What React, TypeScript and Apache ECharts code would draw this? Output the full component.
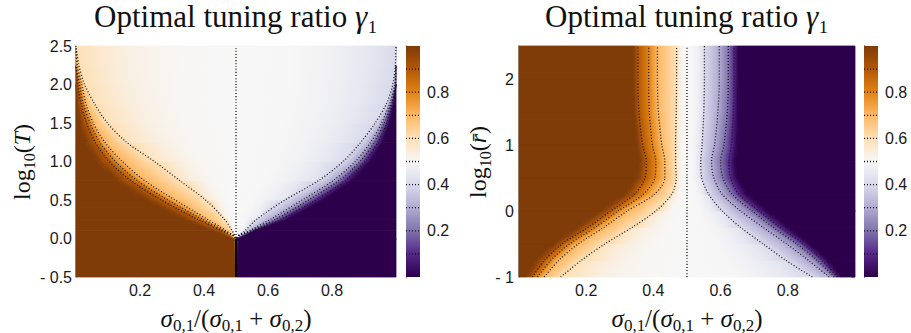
import React, { useEffect, useRef } from 'react';
import * as echarts from 'echarts';

// Colormap anchors for values 0.0, 0.1, ..., 1.0 (purple -> white -> brown)
const LEVEL_COLORS = ['#2d004b', '#542788', '#8073ac', '#b2abd2', '#d8daeb', '#f7f7f7', '#fee0b6', '#fdb863', '#e08214', '#b35806', '#7f3b08'];
const CONTOUR_LEVELS = [0.1, 0.2, 0.3, 0.4, 0.5, 0.6, 0.7, 0.8, 0.9];
const COLORBAR_TICKS = [0.2, 0.4, 0.6, 0.8];
const X_MIN = 0;
const X_MAX = 1;

// ---------- Left panel: log10(T) ----------
const T_ROWS = [-0.5, 0.0, 0.1, 0.25, 0.5, 0.75, 1.0, 1.25, 1.5, 1.75, 2.0, 2.25, 2.5];
const T_SAT_HIGH = [0.5, 0.49, 0.43, 0.335, 0.218, 0.128, 0.065, 0.03, 0.011, 0.003, 0.0, 0.0, 0.0];
const T_C90 = [0.5, 0.498, 0.455, 0.38, 0.267, 0.172, 0.104, 0.06, 0.033, 0.016, 0.005, 0.0, 0.0];
const T_C80 = [0.5, 0.498, 0.462, 0.395, 0.287, 0.192, 0.123, 0.074, 0.044, 0.023, 0.011, 0.0, 0.0];
const T_C70 = [0.5, 0.498, 0.469, 0.41, 0.31, 0.215, 0.145, 0.09, 0.054, 0.031, 0.018, 0.004, 0.0];
const T_C60 = [0.5, 0.498, 0.488, 0.464, 0.405, 0.325, 0.245, 0.158, 0.098, 0.058, 0.027, 0.009, 0.0];
const T_C50 = [0.5, 0.5, 0.5, 0.5, 0.5, 0.5, 0.5, 0.5, 0.5, 0.5, 0.5, 0.5, 0.5];
const T_C40 = [0.5, 0.502, 0.528, 0.565, 0.653, 0.757, 0.835, 0.89, 0.935, 0.97, 0.99, 0.998, 1.0];
const T_C30 = [0.5, 0.502, 0.542, 0.608, 0.707, 0.803, 0.873, 0.921, 0.955, 0.98, 0.996, 1.0, 1.0];
const T_C20 = [0.5, 0.502, 0.548, 0.624, 0.727, 0.821, 0.888, 0.932, 0.963, 0.985, 0.999, 1.0, 1.0];
const T_C10 = [0.5, 0.502, 0.554, 0.641, 0.749, 0.841, 0.903, 0.944, 0.971, 0.989, 1.0, 1.0, 1.0];
const T_SAT_LOW = [0.5, 0.51, 0.56, 0.66, 0.773, 0.862, 0.92, 0.958, 0.98, 0.994, 1.0, 1.0, 1.0];
const T_JUMP = [[0.5, -0.5], [0.5, 0.0]];

// ---------- Right panel: log10(r) ----------
const R_ROWS = [-1.0, -0.75, -0.5, -0.25, 0.0, 0.25, 0.5, 0.75, 1.0, 1.5, 2.0, 2.5];
const R_SAT_HIGH = [0.022, 0.05, 0.105, 0.172, 0.243, 0.313, 0.352, 0.359, 0.352, 0.343, 0.341, 0.341];
const R_C90 = [0.04, 0.075, 0.128, 0.205, 0.273, 0.342, 0.375, 0.379, 0.368, 0.357, 0.354, 0.354];
const R_C80 = [0.055, 0.094, 0.15, 0.226, 0.295, 0.369, 0.404, 0.407, 0.397, 0.388, 0.386, 0.386];
const R_C70 = [0.075, 0.118, 0.176, 0.252, 0.322, 0.402, 0.434, 0.434, 0.425, 0.415, 0.412, 0.412];
const R_C60 = [0.124, 0.185, 0.255, 0.336, 0.407, 0.454, 0.468, 0.466, 0.466, 0.468, 0.469, 0.469];
const R_C50 = [0.5, 0.5, 0.5, 0.5, 0.5, 0.5, 0.5, 0.5, 0.5, 0.5, 0.5, 0.5];
const R_C40 = [0.873, 0.795, 0.727, 0.66, 0.605, 0.565, 0.544, 0.541, 0.545, 0.55, 0.552, 0.552];
const R_C30 = [0.923, 0.862, 0.797, 0.727, 0.66, 0.605, 0.58, 0.573, 0.582, 0.592, 0.596, 0.596];
const R_C20 = [0.938, 0.888, 0.827, 0.757, 0.694, 0.635, 0.607, 0.6, 0.61, 0.62, 0.623, 0.623];
const R_C10 = [0.947, 0.903, 0.847, 0.778, 0.714, 0.655, 0.63, 0.625, 0.632, 0.638, 0.64, 0.64];
const R_SAT_LOW = [0.958, 0.92, 0.865, 0.8, 0.739, 0.68, 0.65, 0.643, 0.65, 0.652, 0.653, 0.653];

type Track = { v: number; xs: number[] };

function hexToRgb(h: string) {
  return [parseInt(h.slice(1, 3), 16), parseInt(h.slice(3, 5), 16), parseInt(h.slice(5, 7), 16)];
}
function colorAt(v: number) {
  const t = Math.max(0, Math.min(1, v)) * 10;
  const k = Math.min(9, Math.floor(t));
  const f = t - k;
  const a = hexToRgb(LEVEL_COLORS[k]);
  const b = hexToRgb(LEVEL_COLORS[k + 1]);
  const c = a.map((x, i) => Math.round(x + (b[i] - x) * f));
  return `rgb(${c[0]},${c[1]},${c[2]})`;
}

function makeTracks(n: number, arrs: number[][]): Track[] {
  const edgeL = new Array(n).fill(X_MIN);
  const edgeR = new Array(n).fill(X_MAX);
  const vals = [1.0, 0.9, 0.8, 0.7, 0.6, 0.5, 0.4, 0.3, 0.2, 0.1, 0.0];
  const tracks: Track[] = [{ v: 1.0, xs: edgeL }];
  arrs.forEach((xs, k) => tracks.push({ v: vals[k], xs }));
  tracks.push({ v: 0.0, xs: edgeR });
  return tracks;
}

const T_TRACKS = makeTracks(T_ROWS.length, [T_SAT_HIGH, T_C90, T_C80, T_C70, T_C60, T_C50, T_C40, T_C30, T_C20, T_C10, T_SAT_LOW]);
const R_TRACKS = makeTracks(R_ROWS.length, [R_SAT_HIGH, R_C90, R_C80, R_C70, R_C60, R_C50, R_C40, R_C30, R_C20, R_C10, R_SAT_LOW]);

// colour stops across a band; the field flattens out towards the 0.5 plateau
const EASE_FRACS = [0, 0.08, 0.18, 0.3, 0.45, 0.65, 1];
function bandStops(vA: number, vB: number) {
  if (vA !== 0.5 && vB !== 0.5) {
    return [{ offset: 0, color: colorAt(vA) }, { offset: 1, color: colorAt(vB) }];
  }
  const fromA = vB === 0.5; // the contour side is A
  const s = fromA ? vA : vB;
  return EASE_FRACS.map((f) => {
    const e = 1 - Math.pow(1 - f, 3);
    const val = s + (0.5 - s) * e;
    return { offset: fromA ? f : 1 - f, color: colorAt(val) };
  }).sort((p, q) => p.offset - q.offset);
}

function heatSeries(rows: number[], tracks: Track[], axisIndex: number) {
  const data: number[][] = [];
  for (let i = 0; i < rows.length - 1; i++) {
    for (let j = 0; j < tracks.length - 1; j++) data.push([i, j]);
  }
  return {
    type: 'custom',
    xAxisIndex: axisIndex,
    yAxisIndex: axisIndex,
    silent: true,
    z: 1,
    data,
    renderItem: (params: any, api: any) => {
      const i = api.value(0);
      const j = api.value(1);
      const A = tracks[j];
      const B = tracks[j + 1];
      const y0 = rows[i];
      const y1 = rows[i + 1];
      const L0 = api.coord([A.xs[i], y0]);
      const L1 = api.coord([A.xs[i + 1], y1]);
      const R0 = api.coord([B.xs[i], y0]);
      const R1 = api.coord([B.xs[i + 1], y1]);
      if (Math.abs(R0[0] - L0[0]) < 0.01 && Math.abs(R1[0] - L1[0]) < 0.01) return null;
      let fill: any = colorAt(A.v);
      if (A.v !== B.v) {
        const mL = [(L0[0] + L1[0]) / 2, (L0[1] + L1[1]) / 2];
        const mR = [(R0[0] + R1[0]) / 2, (R0[1] + R1[1]) / 2];
        let dx = L1[0] - L0[0] + (R1[0] - R0[0]);
        let dy = L1[1] - L0[1] + (R1[1] - R0[1]);
        const dl = Math.hypot(dx, dy) || 1;
        dx /= dl;
        dy /= dl;
        let vx = mR[0] - mL[0];
        let vy = mR[1] - mL[1];
        const dot = vx * dx + vy * dy;
        vx -= dot * dx;
        vy -= dot * dy;
        if (Math.hypot(vx, vy) < 0.3) {
          fill = colorAt((A.v + B.v) / 2);
        } else {
          fill = new echarts.graphic.LinearGradient(mL[0], mL[1], mL[0] + vx, mL[1] + vy, bandStops(A.v, B.v), true);
        }
      }
      return {
        type: 'polygon',
        shape: { points: [L0, L1, R1, R0] },
        style: { fill, stroke: fill, lineWidth: 0.8 },
      };
    },
  };
}

function contourSeries(rows: number[], tracks: Track[], axisIndex: number) {
  const out: any[] = [];
  tracks.forEach((t, k) => {
    if (k < 2 || k > tracks.length - 3) return; // skip edges and saturation tracks
    const pts: number[][] = [];
    rows.forEach((y, r) => {
      const x = t.xs[r];
      const atEdge = x <= X_MIN + 1e-9 || x >= X_MAX - 1e-9;
      const prevEdge = r > 0 && (t.xs[r - 1] <= X_MIN + 1e-9 || t.xs[r - 1] >= X_MAX - 1e-9);
      if (atEdge && prevEdge) return;
      pts.push([x, y]);
    });
    out.push({
      type: 'line',
      xAxisIndex: axisIndex,
      yAxisIndex: axisIndex,
      data: pts,
      symbol: 'none',
      smooth: 0.3,
      silent: true,
      z: 3,
      lineStyle: { color: '#151515', width: 1.3, type: [1, 2] },
    });
  });
  return out;
}

function colorbarSeries(axisIndex: number) {
  return [
    {
      type: 'custom',
      xAxisIndex: axisIndex,
      yAxisIndex: axisIndex,
      silent: true,
      data: [[0, 0]],
      renderItem: (params: any, api: any) => {
        const p0 = api.coord([0, 1]);
        const p1 = api.coord([1, 0]);
        return {
          type: 'rect',
          shape: { x: p0[0], y: p0[1], width: p1[0] - p0[0], height: p1[1] - p0[1] },
          style: {
            fill: new echarts.graphic.LinearGradient(0, 1, 0, 0, LEVEL_COLORS.map((c, k) => ({ offset: k / 10, color: c }))),
          },
        };
      },
    },
    {
      type: 'custom',
      xAxisIndex: axisIndex,
      yAxisIndex: axisIndex,
      silent: true,
      z: 3,
      data: CONTOUR_LEVELS.map((v) => [0, v]),
      renderItem: (params: any, api: any) => {
        const v = api.value(1);
        const a = api.coord([0, v]);
        const b = api.coord([1, v]);
        return {
          type: 'line',
          shape: { x1: a[0], y1: a[1], x2: b[0], y2: b[1] },
          style: { stroke: '#151515', lineWidth: 1.3, lineDash: [1, 2] },
        };
      },
    },
  ];
}

const TICK_FONT = { fontFamily: 'Liberation Sans', fontSize: 16, color: '#1a1a1a' };
const AXIS_GRAY = { color: '#8f8f8f', width: 1.6 };

function xAxisMain(gridIndex: number) {
  return {
    type: 'value',
    gridIndex,
    min: X_MIN,
    max: X_MAX,
    interval: 0.2,
    axisLine: { show: true, lineStyle: AXIS_GRAY },
    axisTick: { show: false },
    splitLine: { show: false },
    axisLabel: {
      ...TICK_FONT,
      margin: 5,
      showMinLabel: false,
      showMaxLabel: false,
      formatter: (v: number) => (v <= 0 || v >= 1 ? '' : v.toFixed(1)),
    },
  };
}

function colorbarY(gridIndex: number) {
  return {
    type: 'value',
    gridIndex,
    min: 0,
    max: 1,
    interval: 0.2,
    position: 'right',
    axisLine: { show: true, lineStyle: { color: '#000', width: 1 } },
    axisTick: { show: true, length: 5, lineStyle: { color: '#000', width: 1 }, customValues: COLORBAR_TICKS },
    splitLine: { show: false },
    axisLabel: {
      ...TICK_FONT,
      margin: 7,
      customValues: COLORBAR_TICKS,
      formatter: (v: number) => (v <= 0 || v >= 1 ? '' : v.toFixed(1)),
    },
  };
}

const SERIF = 'Liberation Serif';
const TITLE_RICH = {
  a: { fontFamily: SERIF, fontSize: 31, lineHeight: 30, fill: '#111' },
  g: { fontFamily: SERIF, fontStyle: 'italic', fontSize: 31, lineHeight: 30, fill: '#111' },
  s: { fontFamily: SERIF, fontSize: 31, lineHeight: 30, fill: '#111' },
};
const LABEL_RICH = {
  n: { fontFamily: SERIF, fontSize: 25, lineHeight: 31, fill: '#111' },
  i: { fontFamily: SERIF, fontStyle: 'italic', fontSize: 25, lineHeight: 31, fill: '#111' },
  s: { fontFamily: SERIF, fontSize: 17, lineHeight: 17, verticalAlign: 'bottom', fill: '#111' },
};
const Y_RICH = {
  n: { fontFamily: SERIF, fontSize: 24, lineHeight: 30, fill: '#111' },
  i: { fontFamily: SERIF, fontStyle: 'italic', fontSize: 24, lineHeight: 30, fill: '#111' },
  s: { fontFamily: SERIF, fontSize: 16, lineHeight: 16, verticalAlign: 'bottom', fill: '#111' },
};
const TITLE_TEXT = '{a|Optimal tuning ratio }{g|γ}{s|₁}';
const X_LABEL_TEXT = '{i|σ}{s|0,1}{n|/(}{i|σ}{s|0,1}{n| + }{i|σ}{s|0,2}{n|)}';
const Y_LABEL_LEFT = '{n|log}{s|10}{n|(}{i|T}{n|)}';
const Y_LABEL_RIGHT = '{n|log}{s|10}{n|(}{i|r̄}{n|)}';

function textEl(text: string, rich: any, x: number, y: number, rotation = 0) {
  return {
    type: 'text',
    x,
    y,
    rotation,
    silent: true,
    style: { text, rich, align: 'center', verticalAlign: 'middle' },
  };
}

function buildOption() {
  return {
    animation: false,
    backgroundColor: '#ffffff',
    grid: [
      { left: 76, top: 46, width: 320, height: 231 },
      { left: 406, top: 46, width: 14, height: 231 },
      { left: 519, top: 46, width: 336, height: 231 },
      { left: 864, top: 46, width: 14, height: 231 },
    ],
    xAxis: [
      xAxisMain(0),
      { type: 'value', gridIndex: 1, min: 0, max: 1, show: false },
      xAxisMain(2),
      { type: 'value', gridIndex: 3, min: 0, max: 1, show: false },
    ],
    yAxis: [
      {
        type: 'value',
        gridIndex: 0,
        min: -0.5,
        max: 2.5,
        interval: 0.5,
        axisLine: { show: true, lineStyle: AXIS_GRAY },
        axisTick: { show: false },
        splitLine: { show: false },
        axisLabel: {
          ...TICK_FONT,
          margin: 4,
          formatter: (v: number) => (v < 0 ? '- ' + Math.abs(v).toFixed(1) : v.toFixed(1)),
        },
      },
      colorbarY(1),
      {
        type: 'value',
        gridIndex: 2,
        min: -1,
        max: 2.5,
        interval: 1,
        axisLine: { show: true, lineStyle: AXIS_GRAY },
        axisTick: { show: false },
        splitLine: { show: false },
        axisLabel: {
          ...TICK_FONT,
          margin: 5,
          showMaxLabel: false,
          formatter: (v: number) =>
            Math.abs(v - Math.round(v)) > 1e-6 ? '' : v < 0 ? '- ' + Math.abs(v) : String(v),
        },
      },
      colorbarY(3),
      {
        type: 'value',
        gridIndex: 2,
        min: -1,
        max: 2.5,
        interval: 1,
        position: 'right',
        axisLine: { show: false },
        axisTick: { show: true, inside: true, length: 4, lineStyle: { color: '#b0b0b0', width: 1 } },
        axisLabel: { show: false },
        splitLine: { show: false },
      },
    ],
    graphic: [
      textEl(TITLE_TEXT, TITLE_RICH, 236, 16),
      textEl(TITLE_TEXT, TITLE_RICH, 687, 16),
      textEl(X_LABEL_TEXT, LABEL_RICH, 236, 318),
      textEl(X_LABEL_TEXT, LABEL_RICH, 687, 318),
      textEl(Y_LABEL_LEFT, Y_RICH, 22, 162, Math.PI / 2),
      textEl(Y_LABEL_RIGHT, Y_RICH, 478, 162, Math.PI / 2),
    ],
    series: [
      heatSeries(T_ROWS, T_TRACKS, 0),
      ...contourSeries(T_ROWS, T_TRACKS, 0),
      {
        type: 'line',
        xAxisIndex: 0,
        yAxisIndex: 0,
        data: T_JUMP,
        symbol: 'none',
        silent: true,
        z: 4,
        lineStyle: { color: '#000', width: 2 },
      },
      heatSeries(R_ROWS, R_TRACKS, 2),
      ...contourSeries(R_ROWS, R_TRACKS, 2),
      ...colorbarSeries(1),
      ...colorbarSeries(3),
    ],
  };
}

export default function App() {
  const ref = useRef<HTMLDivElement>(null);
  useEffect(() => {
    if (!ref.current) return;
    const chart = echarts.init(ref.current, null, { renderer: 'svg' });
    chart.setOption(buildOption() as any);
    return () => chart.dispose();
  }, []);
  return (
    <div
      ref={ref}
      style={{ position: 'fixed', left: 0, top: 0, width: 911, height: 333, background: '#fff' }}
    />
  );
}
